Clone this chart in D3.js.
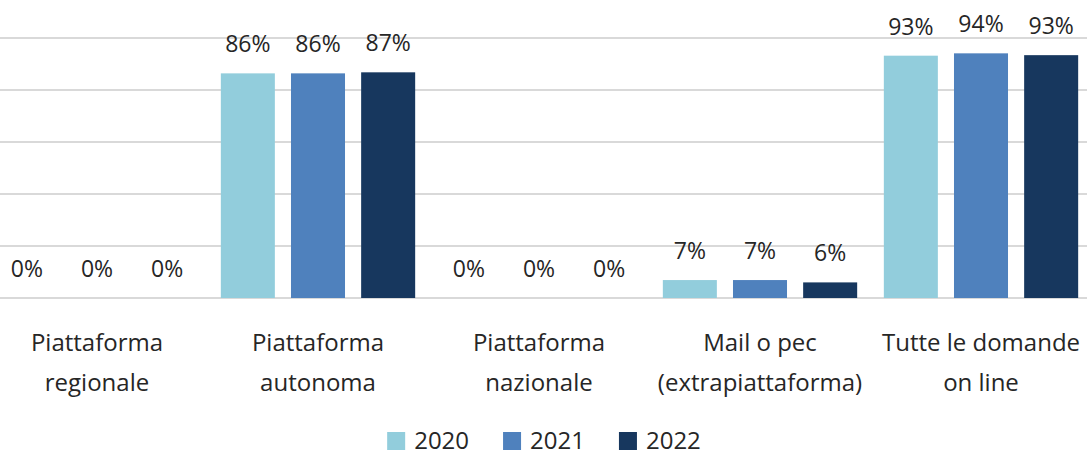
<!DOCTYPE html>
<html>
<head>
<meta charset="utf-8">
<script src="https://cdn.jsdelivr.net/npm/d3@7"></script>
<style>
  body { margin: 0; background: #ffffff; }
  text { font-family: "Open Sans", sans-serif; fill: #262626; }
</style>
</head>
<body>
<div id="chart"></div>
<script>
// data (percent)
var categories = [
  ["Piattaforma", "regionale"],
  ["Piattaforma", "autonoma"],
  ["Piattaforma", "nazionale"],
  ["Mail o pec", "(extrapiattaforma)"],
  ["Tutte le domande", "on line"]
];
var years = ["2020", "2021", "2022"];
var values2020 = [0, 86.4, 0, 6.9, 93.2];
var values2021 = [0, 86.4, 0, 6.9, 94.1];
var values2022 = [0, 86.8, 0, 6.0, 93.4];
var yTicks = [0, 20, 40, 60, 80, 100];
var colors = ["#92cddc", "#4f81bd", "#17375e"];

var series = [values2020, values2021, values2022];

var width = 1087, height = 457;

var svg = d3.select("#chart")
  .append("svg")
  .attr("width", width)
  .attr("height", height);

// scales
var catIdx = categories.map(function(d, i) { return i; });
var x0 = d3.scaleBand()
  .domain(catIdx)
  .range([-13.5, 1091.5])
  .padding(0);

var x1 = d3.scaleBand()
  .domain(years)
  .range([0, x0.bandwidth()])
  .paddingInner(0.23)
  .paddingOuter(0.19);

var y = d3.scaleLinear()
  .domain([0, 100])
  .range([298, 38]);

// gridlines
svg.append("g")
  .selectAll("line")
  .data(yTicks)
  .enter()
  .append("line")
    .attr("x1", 0)
    .attr("x2", width)
    .attr("y1", function(d) { return y(d); })
    .attr("y2", function(d) { return y(d); })
    .attr("stroke", "#d9d9d9")
    .attr("stroke-width", 2);

// one row per year/category
var rows = [];
years.forEach(function(yr, s) {
  series[s].forEach(function(v, i) {
    rows.push({year: yr, s: s, cat: i, value: v});
  });
});

svg.append("g")
  .selectAll("rect")
  .data(rows.filter(function(d) { return d.value > 0; }))
  .enter()
  .append("rect")
    .attr("x", function(d) { return x0(d.cat) + x1(d.year); })
    .attr("width", x1.bandwidth())
    .attr("y", function(d) { return y(d.value); })
    .attr("height", function(d) { return y(0) - y(d.value); })
    .attr("fill", function(d) { return colors[d.s]; });

// value labels
svg.append("g")
  .selectAll("text")
  .data(rows)
  .enter()
  .append("text")
    .attr("x", function(d) { return x0(d.cat) + x1(d.year) + x1.bandwidth() / 2; })
    .attr("y", function(d) { return y(d.value) - 21; })
    .attr("text-anchor", "middle")
    .style("font-size", "23px")
    .text(function(d) { return Math.round(d.value) + "%"; });

// category labels (two lines)
var catLabels = svg.append("g")
  .selectAll("text")
  .data(categories)
  .enter()
  .append("text")
    .attr("text-anchor", "middle")
    .style("font-size", "24px");

catLabels.selectAll("tspan")
  .data(function(d, i) { return d.map(function(t, k) { return {t: t, k: k, i: i}; }); })
  .enter()
  .append("tspan")
    .attr("x", function(d) { return x0(d.i) + x0.bandwidth() / 2; })
    .attr("y", function(d) { return 351 + d.k * 40; })
    .text(function(d) { return d.t; });

// legend
var legend = svg.append("g");
var lx = 0;
years.forEach(function(yr, s) {
  var item = legend.append("g").attr("transform", "translate(" + lx + ",0)");
  item.append("rect")
    .attr("x", 0)
    .attr("y", 432)
    .attr("width", 18)
    .attr("height", 18)
    .attr("fill", colors[s]);
  var t = item.append("text")
    .attr("x", 27)
    .attr("y", 449)
    .style("font-size", "24px")
    .text(yr);
  lx += 27 + t.node().getComputedTextLength() + 34;
});
lx -= 34;
legend.attr("transform", "translate(" + (544 - lx / 2) + ",0)");
</script>
</body>
</html>
